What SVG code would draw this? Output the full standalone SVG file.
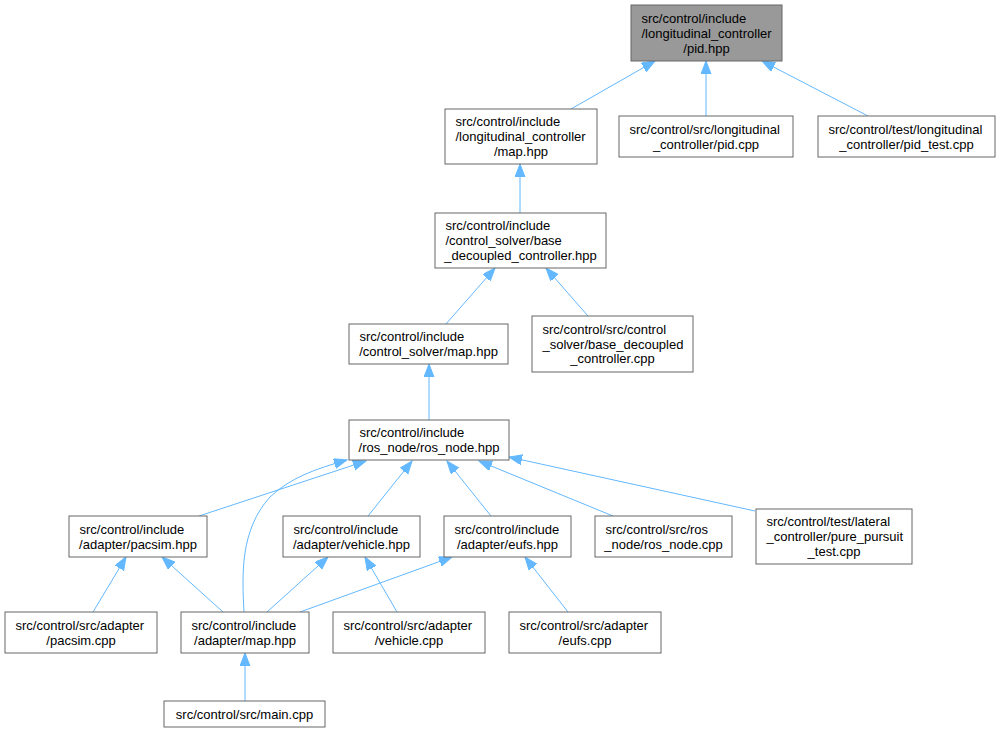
<svg xmlns="http://www.w3.org/2000/svg" width="1000" height="732" viewBox="0 0 1000 732">
<style>
.n rect{fill:#ffffff;stroke:#666666;stroke-width:1}
.n text{font-family:"Liberation Sans",Arial,Helvetica,sans-serif;font-size:13px;fill:#000000}
.m{text-anchor:middle}
.s{text-anchor:start}
#edges path{fill:none;stroke:#63b8ff;stroke-width:1;marker-end:url(#ah)}
</style>
<defs>
<marker id="ah" markerUnits="userSpaceOnUse" markerWidth="14" markerHeight="11" refX="13" refY="5" orient="auto">
<path d="M0,0 L13,5 L0,10 z" fill="#63b8ff" stroke="#63b8ff" stroke-width="1"/>
</marker>
</defs>
<rect x="0" y="0" width="1000" height="732" fill="#ffffff"/>
<g id="edges">
<path d="M571,109 L655,61"/>
<path d="M706,116 L706,61"/>
<path d="M868,116 L762,61"/>
<path d="M520,213 L520,164"/>
<path d="M446,324 L495,268"/>
<path d="M588,316 L546,268"/>
<path d="M429,420 L429,364"/>
<path d="M199,516 L366,461"/>
<path d="M244,612 C242,575 240,530 270,497 C290,478 315,469 347,460"/>
<path d="M368,516 L412,461"/>
<path d="M491,516 L447,461"/>
<path d="M613,516 L479,461"/>
<path d="M755,511 L509,457"/>
<path d="M93,612 L126,557"/>
<path d="M223,612 L162,557"/>
<path d="M267,612 L328,557"/>
<path d="M300,612 L452,557"/>
<path d="M397,612 L365,557"/>
<path d="M568,612 L525,557"/>
<path d="M245,701 L245,653"/>
</g>
<g id="node1" class="n">
<rect x="631" y="5" width="151" height="56" style="fill:#999999"/>
<text class="s" x="641.5" y="23.3">src/control/include</text>
<text class="s" x="641.5" y="38">/longitudinal_controller</text>
<text class="m" x="706.5" y="52.7">/pid.hpp</text>
</g>
<g id="node2" class="n">
<rect x="445" y="109" width="152" height="55"/>
<text class="s" x="455.5" y="126.4">src/control/include</text>
<text class="s" x="455.5" y="141.1">/longitudinal_controller</text>
<text class="m" x="521" y="155.8">/map.hpp</text>
</g>
<g id="node3" class="n">
<rect x="619" y="116" width="174" height="41"/>
<text class="s" x="629.5" y="133.8">src/control/src/longitudinal</text>
<text class="m" x="706" y="148.5">_controller/pid.cpp</text>
</g>
<g id="node4" class="n">
<rect x="818" y="116" width="177" height="41"/>
<text class="s" x="828.5" y="133.8">src/control/test/longitudinal</text>
<text class="m" x="906.5" y="148.5">_controller/pid_test.cpp</text>
</g>
<g id="node5" class="n">
<rect x="435" y="213" width="171" height="55"/>
<text class="s" x="445.5" y="230.4">src/control/include</text>
<text class="s" x="445.5" y="245.1">/control_solver/base</text>
<text class="m" x="520.5" y="259.8">_decoupled_controller.hpp</text>
</g>
<g id="node6" class="n">
<rect x="349" y="324" width="159" height="40"/>
<text class="s" x="359.5" y="341.3">src/control/include</text>
<text class="m" x="428.5" y="356">/control_solver/map.hpp</text>
</g>
<g id="node7" class="n">
<rect x="532" y="316" width="161" height="56"/>
<text class="s" x="542.5" y="333.9">src/control/src/control</text>
<text class="s" x="542.5" y="348.6">_solver/base_decoupled</text>
<text class="m" x="612.5" y="363.3">_controller.cpp</text>
</g>
<g id="node8" class="n">
<rect x="349" y="420" width="160" height="40"/>
<text class="s" x="359.5" y="437.3">src/control/include</text>
<text class="m" x="429" y="452">/ros_node/ros_node.hpp</text>
</g>
<g id="node9" class="n">
<rect x="69" y="516" width="138" height="41"/>
<text class="s" x="79.5" y="533.8">src/control/include</text>
<text class="m" x="138" y="548.5">/adapter/pacsim.hpp</text>
</g>
<g id="node10" class="n">
<rect x="283" y="516" width="137" height="41"/>
<text class="s" x="293.5" y="533.8">src/control/include</text>
<text class="m" x="351.5" y="548.5">/adapter/vehicle.hpp</text>
</g>
<g id="node11" class="n">
<rect x="444" y="516" width="127" height="41"/>
<text class="s" x="454.5" y="533.8">src/control/include</text>
<text class="m" x="507.5" y="548.5">/adapter/eufs.hpp</text>
</g>
<g id="node12" class="n">
<rect x="595" y="516" width="137" height="41"/>
<text class="s" x="605.5" y="533.8">src/control/src/ros</text>
<text class="m" x="663.5" y="548.5">_node/ros_node.cpp</text>
</g>
<g id="node13" class="n">
<rect x="756" y="509" width="156" height="55"/>
<text class="s" x="766.5" y="526.4">src/control/test/lateral</text>
<text class="s" x="766.5" y="541.1">_controller/pure_pursuit</text>
<text class="m" x="834" y="555.8">_test.cpp</text>
</g>
<g id="node14" class="n">
<rect x="5" y="612" width="152" height="41"/>
<text class="s" x="15.5" y="629.8">src/control/src/adapter</text>
<text class="m" x="81" y="644.5">/pacsim.cpp</text>
</g>
<g id="node15" class="n">
<rect x="181" y="612" width="128" height="41"/>
<text class="s" x="191.5" y="629.8">src/control/include</text>
<text class="m" x="245" y="644.5">/adapter/map.hpp</text>
</g>
<g id="node16" class="n">
<rect x="333" y="612" width="152" height="41"/>
<text class="s" x="343.5" y="629.8">src/control/src/adapter</text>
<text class="m" x="409" y="644.5">/vehicle.cpp</text>
</g>
<g id="node17" class="n">
<rect x="509" y="612" width="152" height="41"/>
<text class="s" x="519.5" y="629.8">src/control/src/adapter</text>
<text class="m" x="585" y="644.5">/eufs.cpp</text>
</g>
<g id="node18" class="n">
<rect x="164" y="701" width="161" height="26"/>
<text class="m" x="244.5" y="718.6">src/control/src/main.cpp</text>
</g>
</svg>
